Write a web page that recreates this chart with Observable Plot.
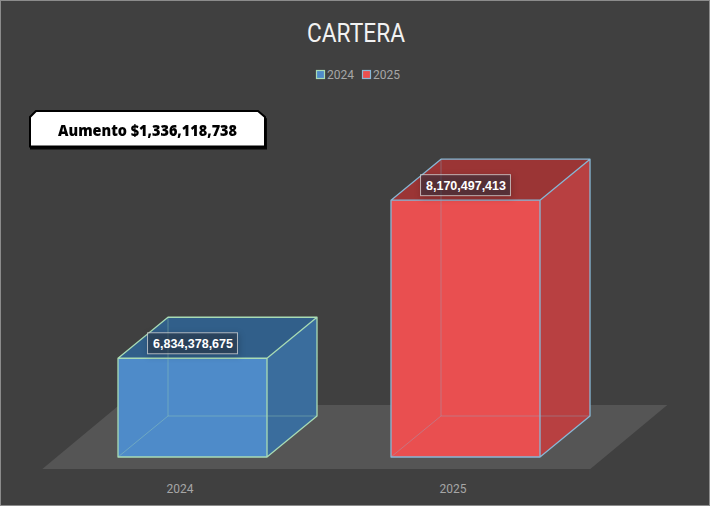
<!DOCTYPE html>
<html>
<head>
<meta charset="utf-8">
<script src="https://cdn.jsdelivr.net/npm/d3@7"></script>
<script src="https://cdn.jsdelivr.net/npm/@observablehq/plot@0.6"></script>
<style>
  html, body { margin: 0; padding: 0; background: #404040; }
  #wrap { position: relative; width: 710px; height: 506px; background: #404040; overflow: hidden; }
  #wrap > svg { position: absolute; left: 0; top: 0; }
  #frame { position: absolute; left: 0; top: 0; width: 710px; height: 506px; box-sizing: border-box; border: 1px solid #8c8c8c; pointer-events: none; }
</style>
</head>
<body>
<div id="wrap"></div>
<script>
// ---- data ----
const years = ["2024", "2025"];
const values = [6834378675, 8170497413];
const increase = [1336118738];
const titleText = "CARTERA";
const calloutPrefix = "Aumento $";

// ---- styles ----
const frontColors = ["#4e8bc9", "#e94f50"];
const topColors = ["#315f8a", "#9b3535"];
const sideColors = ["#3a6d9d", "#b84041"];
const edgeColors = ["#a9dcb5", "#88b8d6"];

const data = years.map((year, i) => ({year, value: values[i], i}));
const yBase = 6e9;
const DX = 50, DY = -41;        // bar depth offset (px)
const fmt = d3.format(",");

function bw(x) { return typeof x.bandwidth === "function" ? x.bandwidth() : x.bandwidth; }

// floor
function floorMark(index, scales) {
  const x = scales.x, y = scales.y;
  const [r0, r1] = x.range();
  const yf = y(yBase) + 12;
  const fl = r0 - 21, fr = r1 - 5;
  const g = d3.create("svg:g");
  g.append("path")
    .attr("d", `M${fl},${yf}L${fr},${yf}L${fr + 77},${yf - 64}L${fl + 77},${yf - 64}Z`)
    .attr("fill", "#555555");
  return g.node();
}

// side + top faces
function backFaces(index, scales) {
  const x = scales.x, y = scales.y, w = bw(x);
  const g = d3.create("svg:g");
  for (const d of data) {
    const x0 = x(d.year), x1 = x0 + w, yt = y(d.value), yb = y(yBase);
    g.append("path")
      .attr("d", `M${x1},${yt}L${x1 + DX},${yt + DY}L${x1 + DX},${yb + DY}L${x1},${yb}Z`)
      .attr("fill", sideColors[d.i]);
    g.append("path")
      .attr("d", `M${x0},${yt}L${x0 + DX},${yt + DY}L${x1 + DX},${yt + DY}L${x1},${yt}Z`)
      .attr("fill", topColors[d.i]);
  }
  return g.node();
}

// edges (hidden faint + visible)
function edges(index, scales) {
  const x = scales.x, y = scales.y, w = bw(x);
  const g = d3.create("svg:g").attr("fill", "none");
  for (const d of data) {
    const x0 = x(d.year), x1 = x0 + w, yt = y(d.value), yb = y(yBase);
    const c = edgeColors[d.i];
    g.append("path")
      .attr("d", `M${x0},${yb}L${x0 + DX},${yb + DY}L${x1 + DX},${yb + DY}M${x0 + DX},${yb + DY}L${x0 + DX},${yt + DY}`)
      .attr("stroke", c).attr("stroke-opacity", 0.35).attr("stroke-width", 1);
    g.append("path")
      .attr("d", `M${x0},${yt}L${x1},${yt}L${x1},${yb}L${x0},${yb}Z` +
                 `M${x0},${yt}L${x0 + DX},${yt + DY}L${x1 + DX},${yt + DY}L${x1},${yt}` +
                 `M${x1 + DX},${yt + DY}L${x1 + DX},${yb + DY}L${x1},${yb}`)
      .attr("stroke", c).attr("stroke-width", 1.3).attr("stroke-linejoin", "round");
  }
  return g.node();
}

// label boxes
const ctx = document.createElement("canvas").getContext("2d");
function labelBoxes(index, scales) {
  const x = scales.x, y = scales.y, w = bw(x);
  ctx.font = "bold 12.5px 'Liberation Sans', Arial";
  const g = d3.create("svg:g");
  for (const d of data) {
    const cx = x(d.year) + w / 2, cy = y(d.value) - 15;
    const tw = ctx.measureText(fmt(d.value)).width + 10;
    g.append("rect")
      .attr("x", cx - tw / 2).attr("y", cy - 10.5).attr("width", tw).attr("height", 21)
      .attr("fill", "#2a3342").attr("fill-opacity", 0.5)
      .attr("stroke", "#d9d9d9").attr("stroke-opacity", 0.75).attr("stroke-width", 1)
      .style("filter", "drop-shadow(1px 2px 3px rgba(0,0,0,0.35))");
  }
  return g.node();
}

const chart = Plot.plot({
  width: 710,
  height: 506,
  marginLeft: 63.3,
  marginRight: 114.7,
  marginTop: 0,
  marginBottom: 24,
  style: {background: "transparent", overflow: "visible"},
  x: {domain: years, paddingInner: 0.455, paddingOuter: 0.2, axis: null},
  y: {domain: [yBase, 9e9], range: [457, 102], axis: null},
  color: {domain: years, range: frontColors},
  marks: [
    floorMark,
    backFaces,
    Plot.barY(data, {x: "year", y1: () => yBase, y2: "value", fill: "year"}),
    edges,
    labelBoxes,
    Plot.text(data, {
      x: "year", y: "value", dy: -15, text: d => fmt(d.value),
      fill: "#ffffff", fontSize: 12.5, fontWeight: "bold",
      fontFamily: "'Liberation Sans', Arial", lineAnchor: "middle"
    }),
    Plot.text(years, {
      x: d => d, frameAnchor: "bottom", lineAnchor: "middle", dy: 7, dx: -13,
      fill: "#a6a6a6", fontSize: 12, fontFamily: "Roboto"
    })
  ]
});

const wrap = document.getElementById("wrap");
wrap.appendChild(chart);

// overlay: title, legend, callout
const ov = d3.select(wrap).append("svg")
  .attr("width", 710).attr("height", 506)
  .style("position", "absolute").style("left", 0).style("top", 0);

ov.append("text")
  .attr("x", 356).attr("y", 42).attr("text-anchor", "middle")
  .attr("textLength", 98).attr("lengthAdjust", "spacingAndGlyphs")
  .attr("fill", "#f2f2f2").style("font", "400 25px Roboto")
  .text(titleText);

years.forEach((yr, i) => {
  const lx = 316 + i * 46;
  ov.append("rect").attr("x", lx + 0.5).attr("y", 70.5).attr("width", 8).attr("height", 8)
    .attr("fill", frontColors[i]).attr("stroke", edgeColors[i]).attr("stroke-width", 1.2);
  ov.append("text").attr("x", lx + 11).attr("y", 78.5)
    .attr("fill", "#a6a6a6").style("font", "12px Roboto").text(yr);
});

const cg = ov.append("g").style("filter", "drop-shadow(1px 2px 0.5px rgba(0,0,0,0.9))");
cg.append("path")
  .attr("d", "M30,117L36,111L258,111L265,117L265,146.5L30,146.5Z")
  .attr("fill", "#ffffff").attr("stroke", "#000000").attr("stroke-width", 2);
cg.append("text")
  .attr("x", 147.5).attr("y", 135.5).attr("text-anchor", "middle")
  .attr("textLength", 179).attr("lengthAdjust", "spacingAndGlyphs")
  .attr("fill", "#000000").style("font", "800 15.5px 'Open Sans'")
  .text(calloutPrefix + fmt(increase[0]));

d3.select(wrap).append("div").attr("id", "frame");
</script>
</body>
</html>
